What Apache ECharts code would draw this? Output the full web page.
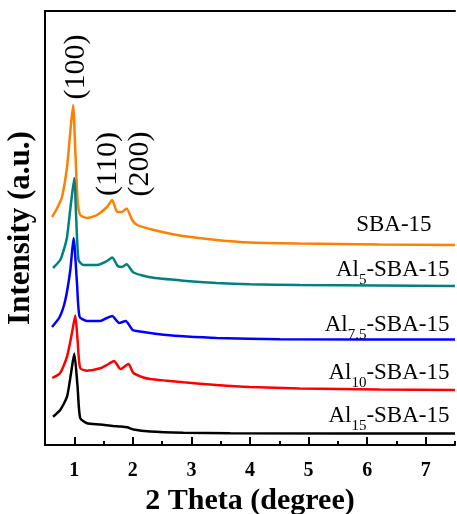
<!DOCTYPE html>
<html>
<head>
<meta charset="utf-8">
<script src="https://cdn.jsdelivr.net/npm/echarts@6/dist/echarts.min.js"></script>
<style>
html,body{margin:0;padding:0;background:#fff;}
#c{width:457px;height:514px;}
</style>
</head>
<body>
<div id="c"></div>
<script>
// ---- data (2 Theta in degree, intensity in stacked arbitrary units) ----
var sbaX   = [0.62,0.70,0.79,0.876,0.93,0.98,1.017,1.056,1.10,1.216,1.387,1.557,1.647,1.733,1.813,1.894,1.988,2.073,2.295,2.58,2.857,3.43,4.0,4.85,6.21,7.5];
var sbaY   = [228,236,248,278,312,340,295,245,230,227,230,238,245,233,233,236.5,225,220,216,212,209,205,202.5,201.5,200.5,200];
var al5X   = [0.637,0.76,0.83,0.876,0.944,1.0,1.034,1.073,1.158,1.387,1.557,1.647,1.741,1.813,1.894,2.01,2.295,2.862,3.43,4.0,4.85,6.21,7.5];
var al5Y   = [177,185,197,208,242,267,225,185,180,180,184,187.5,179,178,180.7,172.5,167.7,164.3,162,160.7,160,159.5,159];
var al75X  = [0.62,0.75,0.847,0.932,0.988,1.046,1.09,1.216,1.443,1.557,1.647,1.767,1.877,1.997,2.124,2.295,2.58,2.862,3.43,4.51,7.5];
var al75Y  = [118,128,145,175,207,162,128.3,124,124,127,129,122,124,115,113.5,112,110,108.7,107,105.8,105.5];
var al10X  = [0.625,0.76,0.876,0.96,1.017,1.056,1.10,1.216,1.443,1.584,1.68,1.789,1.925,2.01,2.18,2.295,2.58,2.862,3.43,4.0,4.85,6.21,7.5];
var al10Y  = [67,72,88.3,112,129.5,105,77,74.3,76.7,81,84,76,81,72,67.5,66,64.3,62.7,60,58,56.5,55.5,55];
var al15X  = [0.637,0.76,0.876,0.944,1.0,1.056,1.10,1.216,1.443,1.664,1.784,1.903,2.01,2.295,2.862,3.66,7.5];
var al15Y  = [28.3,35,48.3,71.7,91.5,58.3,27,21.7,20.5,19,18.5,17.7,15.5,13.5,12.3,11.7,11.5];

var seriesNames  = ['SBA-15','Al5-SBA-15','Al7.5-SBA-15','Al10-SBA-15','Al15-SBA-15'];
var seriesLabels = ['SBA-15','{m|Al}{s|5}{m|-SBA-15}','{m|Al}{s|7.5}{m|-SBA-15}','{m|Al}{s|10}{m|-SBA-15}','{m|Al}{s|15}{m|-SBA-15}'];
var seriesColors = ['#FF8000','#008080','#0000FF','#FF0000','#000000'];
// label anchor points in data coordinates [x (right edge), y (middle)]
var labelPos = [[7.1,220],[7.405,175],[7.405,120],[7.405,72],[7.405,28.7]];

var peakLabels = ['(100)','(110)','(200)'];
var peakPos    = [[1.03,378],[1.58,281],[2.12,281]];

var majorTicks = [1,2,3,4,5,6,7];
var minorTicks = [1.5,2.5,3.5,4.5,5.5,6.5,7.5];

var FONT = '"Liberation Serif","Times New Roman",serif';

function pairs(xs, ys){ return xs.map(function(x,i){ return [x, ys[i]]; }); }
var allX = [sbaX, al5X, al75X, al10X, al15X];
var allY = [sbaY, al5Y, al75Y, al10Y, al15Y];

var chart = echarts.init(document.getElementById('c'), null, {renderer:'canvas'});
var option = {
  animation:false,
  backgroundColor:'#fff',
  grid:{left:45, right:2, top:11, bottom:69, containLabel:false, outerBoundsMode:'none'},
  xAxis:[{
    type:'value', min:0.5, max:7.5, position:'bottom',
    name:'2 Theta (degree)', nameLocation:'middle', nameGap:37,
    nameTextStyle:{fontFamily:FONT, fontWeight:'bold', fontSize:30, color:'#000'},
    axisLine:{show:true, onZero:false, lineStyle:{color:'#000', width:2}},
    axisTick:{show:true, inside:true, length:8, customValues:majorTicks, lineStyle:{color:'#000', width:2}},
    axisLabel:{show:true, customValues:majorTicks, margin:16, fontFamily:FONT, fontWeight:'bold', fontSize:20, color:'#000'},
    splitLine:{show:false}
  },{
    type:'value', min:0.5, max:7.5, position:'bottom',
    axisLine:{show:false, onZero:false},
    axisTick:{show:true, inside:true, length:4, customValues:minorTicks, lineStyle:{color:'#000', width:2}},
    axisLabel:{show:false},
    splitLine:{show:false}
  },{
    type:'value', min:0.5, max:7.5, position:'top',
    axisLine:{show:true, onZero:false, lineStyle:{color:'#000', width:2}},
    axisTick:{show:false}, axisLabel:{show:false}, splitLine:{show:false}
  }],
  yAxis:{
    type:'value', min:0, max:434,
    name:'Intensity (a.u.)', nameLocation:'middle', nameGap:9,
    nameTextStyle:{fontFamily:FONT, fontWeight:'bold', fontSize:31, color:'#000'},
    axisLine:{show:true, onZero:false, lineStyle:{color:'#000', width:2}},
    axisTick:{show:false}, axisLabel:{show:false}, splitLine:{show:false}
  },
  series: seriesNames.map(function(n,i){
    return {
      name:n, type:'line', xAxisIndex:0, data:pairs(allX[i], allY[i]),
      showSymbol:false, smooth:0.2,
      lineStyle:{color:seriesColors[i], width:2.5},
      itemStyle:{color:seriesColors[i]}
    };
  })
};
chart.setOption(option);

var graphics = [];
seriesLabels.forEach(function(t,i){
  var p = chart.convertToPixel({gridIndex:0}, labelPos[i]);
  graphics.push({
    type:'text', x:p[0], y:p[1], z:100,
    style:{
      text:t, align:'right', verticalAlign:'middle',
      fontFamily:FONT, fontSize:23, fill:'#000',
      rich:{
        m:{fontFamily:FONT, fontSize:23, fill:'#000', color:'#000'},
        s:{fontFamily:FONT, fontSize:15, fill:'#000', color:'#000', padding:[20,0,0,0]}
      }
    }
  });
});
peakLabels.forEach(function(t,i){
  var p = chart.convertToPixel({gridIndex:0}, peakPos[i]);
  graphics.push({
    type:'text', x:p[0], y:p[1], rotation:Math.PI/2, z:100,
    style:{text:t, align:'center', verticalAlign:'middle', fontFamily:FONT, fontSize:30, fill:'#000'}
  });
});
chart.setOption({graphic:graphics});
</script>
</body>
</html>
